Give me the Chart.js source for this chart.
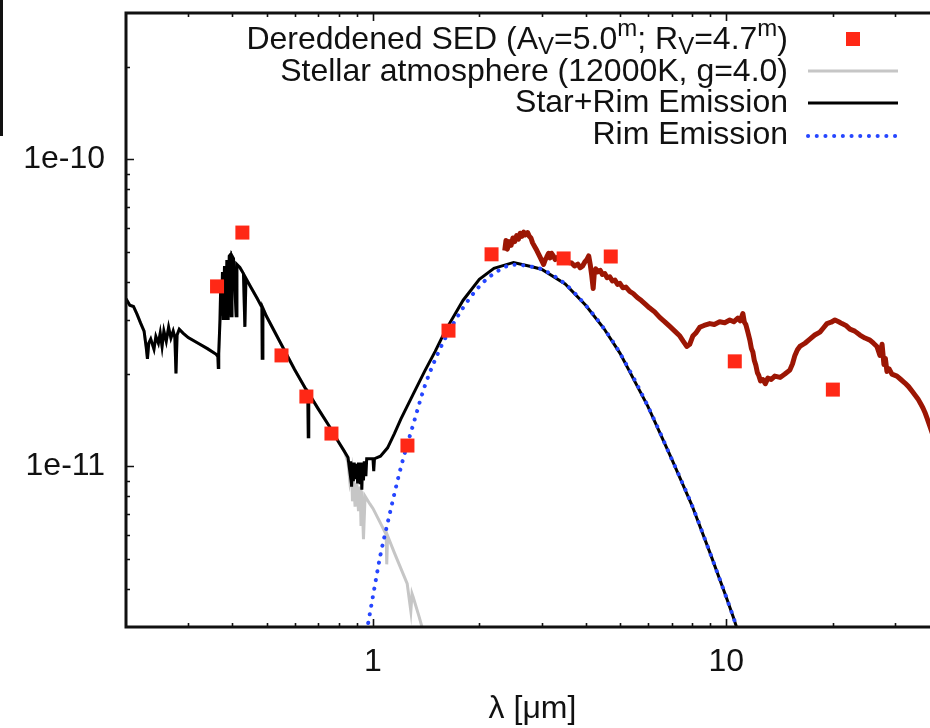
<!DOCTYPE html>
<html>
<head>
<meta charset="utf-8">
<script src="https://cdn.jsdelivr.net/npm/chart.js@4.4.1/dist/chart.umd.min.js"></script>
<style>
  html, body { margin: 0; padding: 0; background: #fff; overflow: hidden; }
  canvas { display: block; }
</style>
</head>
<body>
<canvas id="sed" width="960" height="728"></canvas>
<script>
// ---- Dereddened photometry (wavelength in micron, flux) ----
const sedLambda = [0.362, 0.427, 0.551, 0.648, 0.763, 1.252, 1.636, 2.166, 3.465, 4.71, 10.57, 20.03];
const sedFlux   = [3.86e-11, 5.78e-11, 2.30e-11, 1.69e-11, 1.28e-11, 1.17e-11, 2.77e-11, 4.91e-11, 4.76e-11, 4.83e-11, 2.20e-11, 1.78e-11];

// ---- Stellar model, UV/optical part (identical in both model curves) ----
const uvLambda = [0.200, 0.205, 0.210, 0.215, 0.220, 0.225, 0.228, 0.230, 0.232, 0.235, 0.240, 0.243, 0.247, 0.250,
  0.253, 0.256, 0.260, 0.264, 0.268, 0.272, 0.275, 0.277, 0.279, 0.283, 0.290, 0.300, 0.320, 0.340, 0.360, 0.364,
  0.365, 0.366, 0.369, 0.371, 0.373, 0.375, 0.377, 0.380, 0.383, 0.386, 0.389, 0.392, 0.395, 0.397, 0.399, 0.403,
  0.410, 0.412, 0.420, 0.430, 0.434, 0.437, 0.450, 0.470, 0.485, 0.486, 0.488, 0.500, 0.550, 0.600, 0.650, 0.654,
  0.656, 0.658, 0.700, 0.750, 0.800, 0.830];
const uvFlux = [3.52e-11, 3.35e-11, 3.32e-11, 3.13e-11, 2.93e-11, 2.76e-11, 2.46e-11, 2.24e-11, 2.52e-11, 2.60e-11,
  2.41e-11, 2.65e-11, 2.52e-11, 2.72e-11, 2.46e-11, 2.76e-11, 2.56e-11, 2.84e-11, 2.62e-11, 2.76e-11, 2.63e-11,
  2.01e-11, 2.68e-11, 2.80e-11, 2.72e-11, 2.63e-11, 2.52e-11, 2.42e-11, 2.32e-11, 2.28e-11, 2.10e-11, 2.33e-11,
  3.0e-11, 4.0e-11, 3.1e-11, 4.3e-11, 3.0e-11, 4.5e-11, 3.0e-11, 4.7e-11, 3.0e-11, 4.85e-11, 4.9e-11, 3.1e-11,
  4.85e-11, 4.75e-11, 3.1e-11, 4.55e-11, 4.45e-11, 4.25e-11, 2.85e-11, 4.10e-11, 3.86e-11, 3.53e-11, 3.30e-11,
  2.25e-11, 3.28e-11, 3.08e-11, 2.50e-11, 2.07e-11, 1.76e-11, 1.74e-11, 1.25e-11, 1.73e-11, 1.54e-11, 1.36e-11,
  1.20e-11, 1.12e-11];

// ---- Stellar atmosphere, near-IR part ----
const starLambda = [0.850, 0.860, 0.870, 0.875, 0.880, 0.890, 0.900, 0.910, 0.920, 0.925, 0.930, 0.940, 0.950, 0.980,
  1.000, 1.050, 1.090, 1.094, 1.100, 1.150, 1.200, 1.250, 1.280, 1.290, 1.300, 1.350, 1.400, 1.500];
const starFlux = [1.03e-11, 0.895e-11, 0.965e-11, 0.77e-11, 0.93e-11, 0.74e-11, 0.885e-11, 0.715e-11, 0.86e-11,
  0.64e-11, 0.83e-11, 0.58e-11, 0.80e-11, 0.755e-11, 0.73e-11, 0.654e-11, 0.60e-11, 0.48e-11, 0.595e-11,
  0.523e-11, 0.465e-11, 0.415e-11, 0.338e-11, 0.385e-11, 0.375e-11, 0.325e-11, 0.28e-11, 0.22e-11];

// ---- Star + rim, near-IR part ----
const sumLambda = [0.850, 0.860, 0.865, 0.870, 0.875, 0.880, 0.885, 0.890, 0.900, 0.905, 0.910, 0.920, 0.925, 0.930,
  0.935, 0.940, 0.945, 0.955, 0.960, 1.000, 1.005, 1.010, 1.050, 1.100, 1.150, 1.200, 1.300, 1.400, 1.500, 1.600,
  1.800, 2.000, 2.200, 2.500];
const sumFlux = [1.07e-11, 0.965e-11, 1.04e-11, 0.86e-11, 1.03e-11, 0.895e-11, 1.03e-11, 0.91e-11, 1.02e-11,
  0.88e-11, 1.03e-11, 0.885e-11, 1.03e-11, 0.84e-11, 1.03e-11, 0.90e-11, 1.04e-11, 0.93e-11, 1.06e-11, 1.06e-11,
  0.965e-11, 1.06e-11, 1.08e-11, 1.15e-11, 1.28e-11, 1.43e-11, 1.72e-11, 2.04e-11, 2.37e-11, 2.76e-11, 3.48e-11,
  4.07e-11, 4.42e-11, 4.62e-11];

// ---- Inner rim emission ----
const rimLambda = [0.960, 1.000, 1.050, 1.100, 1.200, 1.300, 1.400, 1.500, 1.600, 1.800, 2.000, 2.200, 2.500, 2.800,
  3.000, 3.500, 4.000, 4.500, 5.000, 6.000, 7.000, 8.000, 9.000, 10.00, 10.50, 11.00];
const rimFlux = [2.9e-12, 3.78e-12, 5.15e-12, 6.54e-12, 9.95e-12, 1.37e-11, 1.82e-11, 2.23e-11, 2.61e-11, 3.29e-11,
  3.86e-11, 4.25e-11, 4.54e-11, 4.48e-11, 4.39e-11, 3.93e-11, 3.35e-11, 2.82e-11, 2.34e-11, 1.57e-11, 1.06e-11,
  7.46e-12, 5.22e-12, 3.75e-12, 3.2e-12, 2.7e-12];

// ---- Mid-IR spectrum ----
const irsLambda = [2.36, 2.38, 2.40, 2.43, 2.46, 2.49, 2.52, 2.55, 2.58, 2.61, 2.64, 2.67, 2.70, 2.74, 2.77, 2.80,
  2.83, 2.87, 2.91, 2.96, 3.00, 3.04, 3.07, 3.10, 3.14, 3.17, 3.20, 3.24, 3.28, 3.33, 3.38, 3.43, 3.48, 3.53, 3.58,
  3.65, 3.72, 3.80, 3.86, 3.92, 3.97, 4.03, 4.08, 4.12, 4.16, 4.20, 4.23, 4.27, 4.33, 4.40, 4.46, 4.53, 4.60, 4.68,
  4.76, 4.84, 4.92, 5.00, 5.10, 5.20, 5.33, 5.45, 5.60, 5.75, 5.90, 6.07, 6.25, 6.48, 6.70, 6.92, 7.15, 7.39, 7.55,
  7.73, 7.88, 8.04, 8.20, 8.41, 8.65, 8.98, 9.25, 9.58, 9.90, 10.23, 10.50, 10.78, 10.95, 11.14, 11.25, 11.36, 11.50,
  11.66, 11.78, 11.89, 12.00, 12.12, 12.25, 12.36, 12.50, 12.69, 12.90, 13.11, 13.40, 13.72, 14.20, 14.65, 15.13,
  15.40, 15.64, 15.90, 16.15, 16.70, 17.24, 17.80, 18.41, 18.80, 19.27, 19.80, 20.30, 20.80, 21.25, 21.80, 22.38,
  23.10, 23.89, 24.70, 25.50, 26.10, 26.69, 27.22, 27.60, 27.94, 28.20, 28.49, 28.90, 29.43, 30.41, 31.20, 32.04,
  32.80, 33.54, 34.20, 34.87, 35.50, 36.03, 36.50, 36.98, 37.71, 38.96, 40.0];
const irsFlux = [5.05e-11, 5.45e-11, 5.10e-11, 5.40e-11, 5.25e-11, 5.55e-11, 5.40e-11, 5.65e-11, 5.50e-11, 5.75e-11,
  5.62e-11, 5.80e-11, 5.68e-11, 5.78e-11, 5.62e-11, 5.55e-11, 5.35e-11, 5.20e-11, 5.05e-11, 4.85e-11, 4.70e-11,
  4.55e-11, 4.70e-11, 4.80e-11, 4.95e-11, 4.78e-11, 4.95e-11, 4.85e-11, 4.72e-11, 4.80e-11, 4.68e-11, 4.76e-11,
  4.66e-11, 4.72e-11, 4.62e-11, 4.60e-11, 4.50e-11, 4.56e-11, 4.44e-11, 4.50e-11, 4.62e-11, 4.72e-11, 4.85e-11,
  4.55e-11, 4.20e-11, 3.80e-11, 4.25e-11, 4.40e-11, 4.30e-11, 4.35e-11, 4.22e-11, 4.25e-11, 4.12e-11, 4.15e-11,
  4.02e-11, 4.05e-11, 3.92e-11, 3.95e-11, 3.82e-11, 3.84e-11, 3.72e-11, 3.66e-11, 3.55e-11, 3.47e-11, 3.38e-11,
  3.28e-11, 3.20e-11, 3.06e-11, 2.96e-11, 2.86e-11, 2.76e-11, 2.66e-11, 2.56e-11, 2.46e-11, 2.50e-11, 2.66e-11,
  2.72e-11, 2.84e-11, 2.88e-11, 2.92e-11, 2.90e-11, 2.96e-11, 2.94e-11, 3.00e-11, 2.96e-11, 3.04e-11, 2.98e-11,
  3.15e-11, 2.95e-11, 2.90e-11, 2.75e-11, 2.58e-11, 2.42e-11, 2.36e-11, 2.22e-11, 2.14e-11, 2.02e-11, 1.98e-11,
  1.90e-11, 1.92e-11, 1.86e-11, 1.94e-11, 1.92e-11, 1.97e-11, 1.95e-11, 2.00e-11, 2.06e-11, 2.16e-11, 2.30e-11,
  2.40e-11, 2.46e-11, 2.52e-11, 2.60e-11, 2.68e-11, 2.74e-11, 2.82e-11, 2.92e-11, 2.95e-11, 3.00e-11, 2.96e-11,
  2.92e-11, 2.88e-11, 2.80e-11, 2.76e-11, 2.68e-11, 2.62e-11, 2.58e-11, 2.52e-11, 2.46e-11, 2.30e-11, 2.50e-11,
  2.15e-11, 2.25e-11, 2.04e-11, 2.08e-11, 2.00e-11, 1.97e-11, 1.92e-11, 1.87e-11, 1.82e-11, 1.76e-11, 1.71e-11,
  1.66e-11, 1.60e-11, 1.55e-11, 1.50e-11, 1.44e-11, 1.35e-11, 1.21e-11, 1.10e-11];

// ---- Axes ----
const xTickValues = [1, 10];
const xTickLabels = ['1', '10'];
const xMinorTicks = [0.3, 0.4, 0.5, 0.6, 0.7, 0.8, 0.9, 2, 3, 4, 5, 6, 7, 8, 9, 20, 30];
const yTickValues = [1e-11, 1e-10];
const yTickLabels = ['1e-11', '1e-10'];
const yMinorTicks = [4e-12, 5e-12, 6e-12, 7e-12, 8e-12, 9e-12, 2e-11, 3e-11, 4e-11, 5e-11, 6e-11, 7e-11, 8e-11,
  9e-11, 2e-10];
const xTitle = 'λ [μm]';

const legendLabels = ['Dereddened SED', 'Stellar atmosphere (12000K, g=4.0)', 'Star+Rim Emission', 'Rim Emission'];

const FONT = '"Liberation Sans", Arial, Helvetica, sans-serif';
const INK = '#111';

const pts = (xs, ys) => xs.map((x, i) => ({ x, y: ys[i] }));

// Star + rim: shared UV/optical part, own near-IR part, then the rim-dominated tail
const starRimPoints = pts(uvLambda, uvFlux)
  .concat(pts(sumLambda, sumFlux))
  .concat(pts(rimLambda, rimFlux).filter(p => p.x > 2.5));
const starPoints = pts(uvLambda, uvFlux).concat(pts(starLambda, starFlux));

// Frame with inward major/minor ticks on all sides
const framePlugin = {
  id: 'frame',
  afterDatasetsDraw(chart) {
    const { ctx, chartArea: a, scales: { x, y } } = chart;
    ctx.save();
    ctx.strokeStyle = INK;
    ctx.lineWidth = 1.6;
    ctx.beginPath();
    const xt = (vals, len) => vals.forEach(v => {
      const px = Math.round(x.getPixelForValue(v)) + 0.5;
      ctx.moveTo(px, a.bottom); ctx.lineTo(px, a.bottom - len);
      ctx.moveTo(px, a.top); ctx.lineTo(px, a.top + len);
    });
    const yt = (vals, len) => vals.forEach(v => {
      const py = Math.round(y.getPixelForValue(v)) + 0.5;
      ctx.moveTo(a.left, py); ctx.lineTo(a.left + len, py);
      ctx.moveTo(a.right, py); ctx.lineTo(a.right - len, py);
    });
    xt(xTickValues, 8); xt(xMinorTicks, 4);
    yt(yTickValues, 8); yt(yMinorTicks, 4);
    ctx.stroke();
    ctx.lineWidth = 3;
    ctx.strokeRect(a.left, a.top, a.right - a.left, a.bottom - a.top);
    // edge of the neighbouring panel
    ctx.beginPath();
    ctx.moveTo(1.5, 0); ctx.lineTo(1.5, 136);
    ctx.stroke();
    ctx.restore();
  }
};

// Key in the upper right: right-aligned text followed by the sample
const keyPlugin = {
  id: 'key',
  afterDraw(chart) {
    const { ctx } = chart;
    const textRight = 788, s0 = 808, s1 = 898;
    const rows = [40, 72, 103, 135];
    ctx.save();
    ctx.fillStyle = INK;
    ctx.textBaseline = 'middle';
    // first entry carries sub- and superscripts
    const parts = [
      { t: legendLabels[0] + ' (A', size: 32, dy: 0 },
      { t: 'V', size: 24, dy: 7 },
      { t: '=5.0', size: 32, dy: 0 },
      { t: 'm', size: 24, dy: -11 },
      { t: '; R', size: 32, dy: 0 },
      { t: 'V', size: 24, dy: 7 },
      { t: '=4.7', size: 32, dy: 0 },
      { t: 'm', size: 24, dy: -11 },
      { t: ')', size: 32, dy: 0 }
    ];
    let total = 0;
    parts.forEach(p => { ctx.font = p.size + 'px ' + FONT; p.w = ctx.measureText(p.t).width; total += p.w; });
    let cx = textRight - total;
    ctx.textAlign = 'left';
    parts.forEach(p => { ctx.font = p.size + 'px ' + FONT; ctx.fillText(p.t, cx, rows[0] + p.dy); cx += p.w; });

    ctx.font = '32px ' + FONT;
    ctx.textAlign = 'right';
    for (let i = 1; i < 4; i++) ctx.fillText(legendLabels[i], textRight, rows[i]);

    // samples
    const ds = chart.data.datasets;
    ctx.fillStyle = ds[0].backgroundColor;
    ctx.fillRect(853 - 7, rows[0] - 8, 14, 14);
    const line = (d, yy) => {
      ctx.beginPath();
      ctx.strokeStyle = d.borderColor;
      ctx.lineWidth = Math.min(d.borderWidth, 4);
      ctx.setLineDash(d.borderDash || []);
      ctx.lineCap = d.borderCapStyle || 'butt';
      ctx.moveTo(s0, yy); ctx.lineTo(s1, yy);
      ctx.stroke();
    };
    line(ds[3], rows[1] - 1);
    line(ds[2], rows[2]);
    line(ds[1], rows[3] + 1);
    ctx.restore();
  }
};

new Chart(document.getElementById('sed'), {
  type: 'scatter',
  data: {
    datasets: [
      {
        label: legendLabels[0],
        data: pts(sedLambda, sedFlux),
        showLine: false,
        pointStyle: 'rect',
        pointRadius: 9.9,
        pointBorderWidth: 0,
        backgroundColor: 'rgb(255,40,22)',
        borderColor: 'rgb(255,40,22)'
      },
      {
        label: legendLabels[3],
        data: pts(rimLambda, rimFlux),
        showLine: true,
        pointRadius: 0,
        borderColor: 'rgb(38,70,255)',
        borderWidth: 4,
        borderDash: [0.1, 8.6],
        borderCapStyle: 'round',
        cubicInterpolationMode: 'monotone'
      },
      {
        label: legendLabels[2],
        data: starRimPoints,
        showLine: true,
        pointRadius: 0,
        borderColor: '#000',
        borderWidth: 3,
        tension: 0
      },
      {
        label: legendLabels[1],
        data: starPoints,
        showLine: true,
        pointRadius: 0,
        borderColor: '#c6c6c6',
        borderWidth: 3,
        tension: 0
      },
      {
        label: 'spectrum',
        data: pts(irsLambda, irsFlux),
        showLine: true,
        pointRadius: 0,
        borderColor: '#9c1604',
        borderWidth: 5,
        borderJoinStyle: 'round',
        tension: 0
      }
    ]
  },
  options: {
    responsive: false,
    animation: false,
    devicePixelRatio: 1,
    layout: { padding: { left: 0, top: 13, right: 21, bottom: 0 } },
    plugins: { legend: { display: false }, tooltip: { enabled: false } },
    scales: {
      x: {
        type: 'logarithmic',
        min: 0.2,
        max: 40,
        afterBuildTicks: s => { s.ticks = xTickValues.map(v => ({ value: v })); },
        afterFit: s => { s.height = 101; s.paddingLeft = 0; s.paddingRight = 0; },
        grid: { display: false, drawTicks: false },
        border: { display: false },
        ticks: {
          autoSkip: false, maxRotation: 0, minRotation: 0, padding: 16,
          color: INK, font: { family: FONT, size: 32 },
          callback: (v, i) => xTickLabels[i]
        },
        title: {
          display: true, text: xTitle, color: INK,
          font: { family: FONT, size: 32 }, padding: { top: 0, bottom: 0 }
        }
      },
      y: {
        type: 'logarithmic',
        min: 3e-12,
        max: 3e-10,
        afterBuildTicks: s => { s.ticks = yTickValues.map(v => ({ value: v })); },
        afterFit: s => { s.width = 126; s.paddingTop = 0; s.paddingBottom = 0; },
        grid: { display: false, drawTicks: false },
        border: { display: false },
        ticks: {
          autoSkip: false, padding: 21,
          color: INK, font: { family: FONT, size: 32 },
          callback: (v, i) => yTickLabels[i]
        }
      }
    }
  },
  plugins: [framePlugin, keyPlugin]
});
</script>
</body>
</html>
